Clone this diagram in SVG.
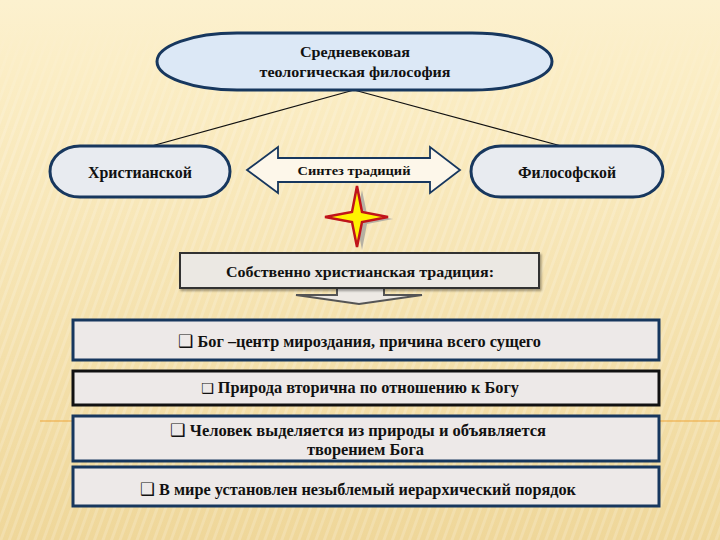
<svg xmlns="http://www.w3.org/2000/svg" width="720" height="540" viewBox="0 0 720 540">
<style>
.t{font-family:"Liberation Serif","Times New Roman",serif;font-weight:bold;fill:#111;text-anchor:middle}
.nav{stroke:#17375e;stroke-width:3}
.box{fill:#ede9e8}
.cb{font-family:"DejaVu Sans",sans-serif;font-weight:bold}
</style>
<defs>
<linearGradient id="bg" x1="0" y1="0" x2="0" y2="1">
<stop offset="0" stop-color="#fcf1cf"/>
<stop offset="0.15" stop-color="#fbedc4"/>
<stop offset="1" stop-color="#efd79a"/>
</linearGradient>
<pattern id="stripes" width="8" height="8" patternUnits="userSpaceOnUse" patternTransform="rotate(20)">
<rect width="3" height="8" fill="#ffffff" opacity="0.18"/>
</pattern>
<linearGradient id="fade" x1="0" y1="0" x2="0" y2="1">
<stop offset="0" stop-color="#fff" stop-opacity="0"/>
<stop offset="0.2" stop-color="#fff" stop-opacity="1"/>
<stop offset="1" stop-color="#fff" stop-opacity="1"/>
</linearGradient>
<mask id="m"><rect x="0" y="20" width="720" height="520" fill="url(#fade)"/></mask>
<filter id="sh" x="-10%" y="-10%" width="130%" height="140%">
<feDropShadow dx="1.5" dy="2" stdDeviation="1" flood-color="#000" flood-opacity="0.35"/>
</filter>
</defs>
<rect width="720" height="540" fill="url(#bg)"/>
<rect width="720" height="540" fill="url(#stripes)" mask="url(#m)"/>
<line x1="40" y1="421" x2="720" y2="421" stroke="#eea63a" stroke-width="1.2"/>

<g id="connectors" stroke="#111" stroke-width="1.2" fill="none">
<line x1="354" y1="90" x2="148" y2="147"/>
<line x1="354" y1="90" x2="565" y2="147"/>
</g>

<g id="top">
<rect x="157" y="33" width="395" height="57" rx="80" ry="28.5" fill="#dce8f6" class="nav"/>
<text class="t" x="355" y="57" font-size="15" textLength="110" lengthAdjust="spacingAndGlyphs">Средневековая</text>
<text class="t" x="355" y="77" font-size="15" textLength="191" lengthAdjust="spacingAndGlyphs">теологическая философия</text>
</g>

<g id="christian">
<rect x="50" y="146" width="180" height="51" rx="30" ry="25.5" fill="#e8ebf0" class="nav"/>
<text class="t" x="140" y="178" font-size="16" textLength="104" lengthAdjust="spacingAndGlyphs">Христианской</text>
</g>

<g id="philosophical">
<rect x="471" y="146" width="192" height="51" rx="30" ry="25.5" fill="#e8ebf0" class="nav"/>
<text class="t" x="567" y="178" font-size="16" textLength="98" lengthAdjust="spacingAndGlyphs">Философской</text>
</g>

<g id="synthesis">
<path d="M247,170 L278,147 L278,158 L430,158 L430,147 L460,170 L430,193 L430,182 L278,182 L278,193 Z" fill="#fdf7ea" stroke="#17375e" stroke-width="1.8" stroke-linejoin="miter"/>
<text class="t" x="354" y="175" font-size="13" textLength="113" lengthAdjust="spacingAndGlyphs">Синтез  традиций</text>
</g>

<g id="star">
<path d="M362,190 L367,214 L393,219 L367,224 L362,250 L357,224 L331,219 L357,214 Z" fill="#9a9a9a" opacity="0.7"/>
<path d="M357,186 L362,212 L388,217 L362,222 L357,247 L352,222 L325,217 L352,212 Z" fill="#fff200" stroke="#c0141a" stroke-width="2.5" stroke-linejoin="miter"/>
</g>

<g id="tradition">
<path d="M337,287 L337,295 L296,295 L359,304 L422,295 L384,295 L384,287" fill="#ede9e4" stroke="#555" stroke-width="2"/>
<rect x="180" y="253" width="359" height="35" fill="#ebe8e3" stroke="#333" stroke-width="2" filter="url(#sh)"/>
<text class="t" x="360" y="277" font-size="15.5" textLength="268" lengthAdjust="spacingAndGlyphs">Собственно христианская традиция:</text>
</g>

<g id="item1">
<rect x="73" y="320" width="586" height="40" class="box nav"/>
<text class="t" x="359.5" y="347" font-size="16" textLength="363" lengthAdjust="spacingAndGlyphs"><tspan class="cb" font-size="17">❑</tspan> Бог –центр мироздания, причина всего сущего</text>
</g>

<g id="item2">
<rect x="73" y="371" width="586" height="34" class="box" stroke="#111" stroke-width="3"/>
<text class="t" x="360" y="393" font-size="16" textLength="318" lengthAdjust="spacingAndGlyphs"><tspan class="cb" font-size="14">❑</tspan> Природа вторична по отношению к Богу</text>
</g>

<g id="item3">
<rect x="73" y="416" width="586" height="45" class="box nav"/>
<text class="t" x="358" y="436" font-size="16" textLength="376" lengthAdjust="spacingAndGlyphs"><tspan class="cb" font-size="17">❑</tspan> Человек выделяется из природы и  объявляется</text>
<text class="t" x="365.5" y="455" font-size="16" textLength="117" lengthAdjust="spacingAndGlyphs">творением Бога</text>
</g>

<g id="item4">
<rect x="73" y="467" width="586" height="39" class="box nav"/>
<text class="t" x="358" y="495" font-size="16.5" textLength="436" lengthAdjust="spacingAndGlyphs"><tspan class="cb" font-size="17">❑</tspan> В мире установлен незыблемый иерархический порядок</text>
</g>
</svg>
